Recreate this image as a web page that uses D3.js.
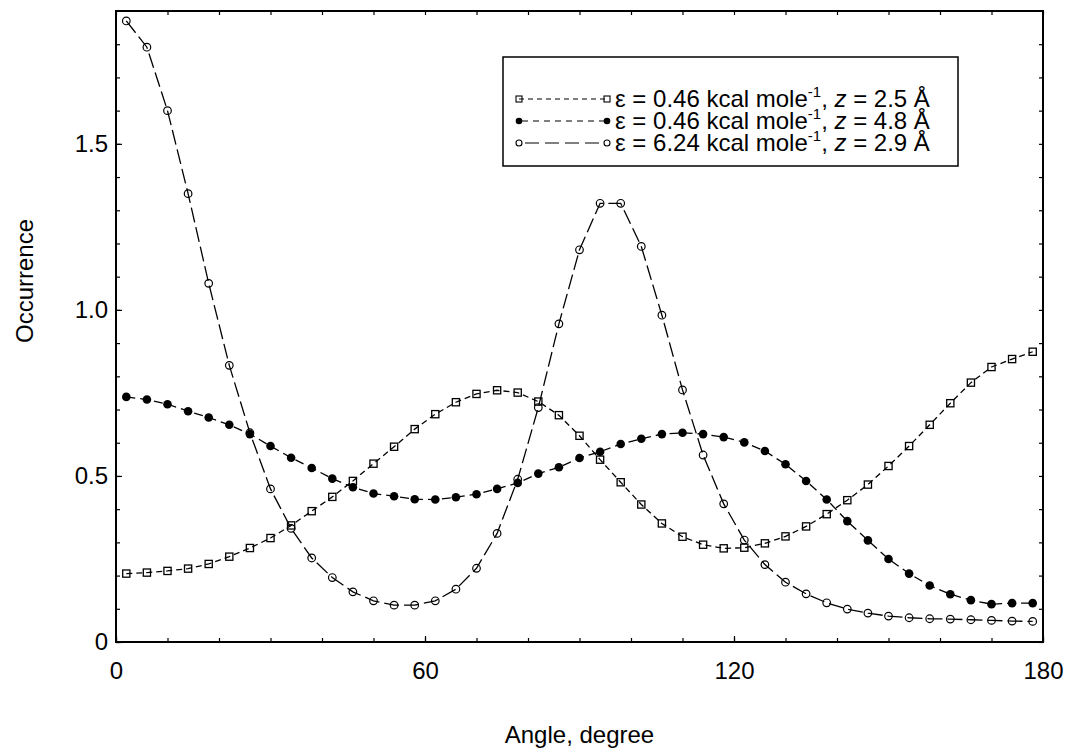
<!DOCTYPE html>
<html>
<head>
<meta charset="utf-8">
<script src="https://cdn.jsdelivr.net/npm/d3@7"></script>
<style>
  html, body { margin: 0; padding: 0; background: #fff; }
  svg { display: block; font-family: "Liberation Sans", Arial, Helvetica, sans-serif; }
</style>
</head>
<body>
<svg id="chart" width="1069" height="753"></svg>
<script>
// ---- data ----
const angles = [2, 6, 10, 14, 18, 22, 26, 30, 34, 38, 42, 46, 50, 54, 58, 62, 66, 70, 74, 78, 82, 86, 90,
  94, 98, 102, 106, 110, 114, 118, 122, 126, 130, 134, 138, 142, 146, 150, 154, 158, 162, 166, 170, 174, 178];

// eps = 0.46 kcal/mol, z = 2.5 A (open squares)
const seriesSquare = [0.206, 0.209, 0.214, 0.221, 0.235, 0.257, 0.283, 0.313, 0.351, 0.394, 0.437, 0.485,
  0.537, 0.588, 0.641, 0.686, 0.722, 0.747, 0.758, 0.751, 0.724, 0.683, 0.621, 0.549, 0.481, 0.414, 0.357,
  0.317, 0.293, 0.282, 0.284, 0.297, 0.318, 0.348, 0.385, 0.427, 0.474, 0.530, 0.590, 0.654, 0.719, 0.781,
  0.828, 0.852, 0.874];

// eps = 0.46 kcal/mol, z = 4.8 A (filled circles)
const seriesFilled = [0.738, 0.730, 0.716, 0.695, 0.676, 0.654, 0.626, 0.590, 0.555, 0.524, 0.492, 0.466,
  0.447, 0.439, 0.430, 0.429, 0.436, 0.445, 0.461, 0.479, 0.507, 0.526, 0.554, 0.573, 0.596, 0.612, 0.626,
  0.630, 0.626, 0.617, 0.601, 0.575, 0.535, 0.485, 0.429, 0.364, 0.306, 0.250, 0.206, 0.170, 0.144, 0.126,
  0.114, 0.117, 0.117];

// eps = 6.24 kcal/mol, z = 2.9 A (open circles)
const seriesOpen = [1.870, 1.791, 1.600, 1.350, 1.080, 0.833, 0.630, 0.461, 0.342, 0.253, 0.194, 0.151,
  0.124, 0.111, 0.111, 0.124, 0.159, 0.222, 0.327, 0.490, 0.706, 0.958, 1.181, 1.321, 1.321, 1.191, 0.984,
  0.759, 0.563, 0.416, 0.307, 0.233, 0.180, 0.145, 0.118, 0.099, 0.087, 0.078, 0.073, 0.070, 0.069, 0.067,
  0.065, 0.063, 0.062];

const xMajorTicks = [0, 60, 120, 180];
const xMinorTicks = [0, 10, 20, 30, 40, 50, 60, 70, 80, 90, 100, 110, 120, 130, 140, 150, 160, 170, 180];
const yMajorTicks = [0, 0.5, 1.0, 1.5];
const yMinorTicks = [0, 0.1, 0.2, 0.3, 0.4, 0.5, 0.6, 0.7, 0.8, 0.9, 1.0, 1.1, 1.2, 1.3, 1.4, 1.5, 1.6, 1.7, 1.8];

const xTitle = "Angle, degree";
const yTitle = "Occurrence";

const legendEntries = [
  { eps: "0.46", z: "2.5", marker: "square" },
  { eps: "0.46", z: "4.8", marker: "filled" },
  { eps: "6.24", z: "2.9", marker: "open" }
];

// ---- layout ----
const svg = d3.select("#chart");
const mLeft = 116, mRight = 1043, mTop = 11, mBottom = 642;
const x = d3.scaleLinear().domain([0, 180]).range([mLeft, mRight]);
const y = d3.scaleLinear().domain([0, 1.9]).range([mBottom, mTop]);
const FS = 24;

svg.append("rect").attr("width", 1069).attr("height", 753).attr("fill", "#fff");

// axes (ticks inward)
function styleAxis(g) {
  g.select(".domain").remove();
  g.selectAll("line").attr("stroke", "#000").attr("stroke-width", 1.2);
  g.selectAll("text").attr("font-size", FS).attr("fill", "#000")
    .attr("font-family", "'Liberation Sans', Arial, sans-serif");
}
svg.append("g").attr("transform", `translate(0,${mBottom})`)
  .call(d3.axisBottom(x).tickValues(xMinorTicks).tickSize(-4).tickFormat("")).call(styleAxis);
svg.append("g").attr("transform", `translate(0,${mBottom})`)
  .call(d3.axisBottom(x).tickValues(xMajorTicks).tickSize(-6).tickPadding(20).tickFormat(d3.format("d"))).call(styleAxis);
svg.append("g").attr("transform", `translate(0,${mTop})`)
  .call(d3.axisTop(x).tickValues(xMinorTicks).tickSize(-4).tickFormat("")).call(styleAxis);
svg.append("g").attr("transform", `translate(${mLeft},0)`)
  .call(d3.axisLeft(y).tickValues(yMinorTicks).tickSize(-4).tickFormat("")).call(styleAxis);
svg.append("g").attr("transform", `translate(${mLeft},0)`)
  .call(d3.axisLeft(y).tickValues(yMajorTicks).tickSize(-6).tickPadding(8)
    .tickFormat(d => d === 0 ? "0" : d3.format(".1f")(d))).call(styleAxis);
svg.append("g").attr("transform", `translate(${mRight},0)`)
  .call(d3.axisRight(y).tickValues(yMinorTicks).tickSize(-4).tickFormat("")).call(styleAxis);

// frame
svg.append("rect").attr("x", mLeft).attr("y", mTop)
  .attr("width", mRight - mLeft).attr("height", mBottom - mTop)
  .attr("fill", "none").attr("stroke", "#000").attr("stroke-width", 2);

// titles
svg.append("text").attr("x", (mLeft + mRight) / 2).attr("y", 743)
  .attr("text-anchor", "middle").attr("font-size", FS).text(xTitle);
svg.append("text").attr("transform", "translate(33,281) rotate(-90)")
  .attr("text-anchor", "middle").attr("font-size", FS).text(yTitle);

// ---- series ----
const line = d3.line().x(d => x(d[0])).y(d => y(d[1]));
const styles = {
  square: { dash: "6,4" },
  filled: { dash: "9,5" },
  open: { dash: "15,5" }
};
const plotG = svg.append("g");
function drawSeries(vals, kind) {
  const pts = angles.map((a, i) => [a, vals[i]]);
  plotG.append("path").datum(pts).attr("d", line)
    .attr("fill", "none").attr("stroke", "#000").attr("stroke-width", 1.3)
    .attr("stroke-dasharray", styles[kind].dash);
  const g = plotG.append("g");
  if (kind === "square") {
    g.selectAll("rect").data(pts).join("rect")
      .attr("x", d => x(d[0]) - 3.6).attr("y", d => y(d[1]) - 3.6)
      .attr("width", 7.2).attr("height", 7.2)
      .attr("fill", "none").attr("stroke", "#000").attr("stroke-width", 1.3);
  } else if (kind === "filled") {
    g.selectAll("circle").data(pts).join("circle")
      .attr("cx", d => x(d[0])).attr("cy", d => y(d[1])).attr("r", 4.3)
      .attr("fill", "#000");
  } else {
    g.selectAll("circle").data(pts).join("circle")
      .attr("cx", d => x(d[0])).attr("cy", d => y(d[1])).attr("r", 3.8)
      .attr("fill", "none").attr("stroke", "#000").attr("stroke-width", 1.2);
  }
}
drawSeries(seriesSquare, "square");
drawSeries(seriesFilled, "filled");
drawSeries(seriesOpen, "open");

// ---- legend ----
const lg = svg.append("g");
lg.append("rect").attr("x", 503).attr("y", 57).attr("width", 455).attr("height", 109)
  .attr("fill", "#fff").attr("stroke", "#000").attr("stroke-width", 1.5);
const rowY = [99, 121, 143];
const sx0 = 519, sx1 = 607;
legendEntries.forEach((e, i) => {
  const yy = rowY[i];
  lg.append("line").attr("x1", sx0).attr("x2", sx1).attr("y1", yy).attr("y2", yy)
    .attr("stroke", "#000").attr("stroke-width", 1.2)
    .attr("stroke-dasharray", e.marker === "square" ? "5,4" : e.marker === "filled" ? "6,5" : "14,6")
    .attr("stroke-dashoffset", e.marker === "square" ? 0 : e.marker === "filled" ? -14 : -6);
  [sx0, sx1].forEach(px => {
    if (e.marker === "square") {
      lg.append("rect").attr("x", px - 3).attr("y", yy - 3).attr("width", 6).attr("height", 6)
        .attr("fill", "none").attr("stroke", "#000").attr("stroke-width", 1.1);
    } else if (e.marker === "filled") {
      lg.append("circle").attr("cx", px).attr("cy", yy).attr("r", 3.3).attr("fill", "#000");
    } else {
      lg.append("circle").attr("cx", px).attr("cy", yy).attr("r", 3).attr("fill", "#fff")
        .attr("stroke", "#000").attr("stroke-width", 1.1);
    }
  });
  const t = lg.append("text").attr("x", 615).attr("y", yy + 8).attr("font-size", FS);
  t.append("tspan").text(`ε = ${e.eps} kcal mole`);
  t.append("tspan").attr("font-size", 15).attr("dy", -10).text("-1");
  t.append("tspan").attr("dy", 10).text(", ");
  t.append("tspan").attr("font-style", "italic").text("z");
  t.append("tspan").text(` = ${e.z} Å`);
});
</script>
</body>
</html>
